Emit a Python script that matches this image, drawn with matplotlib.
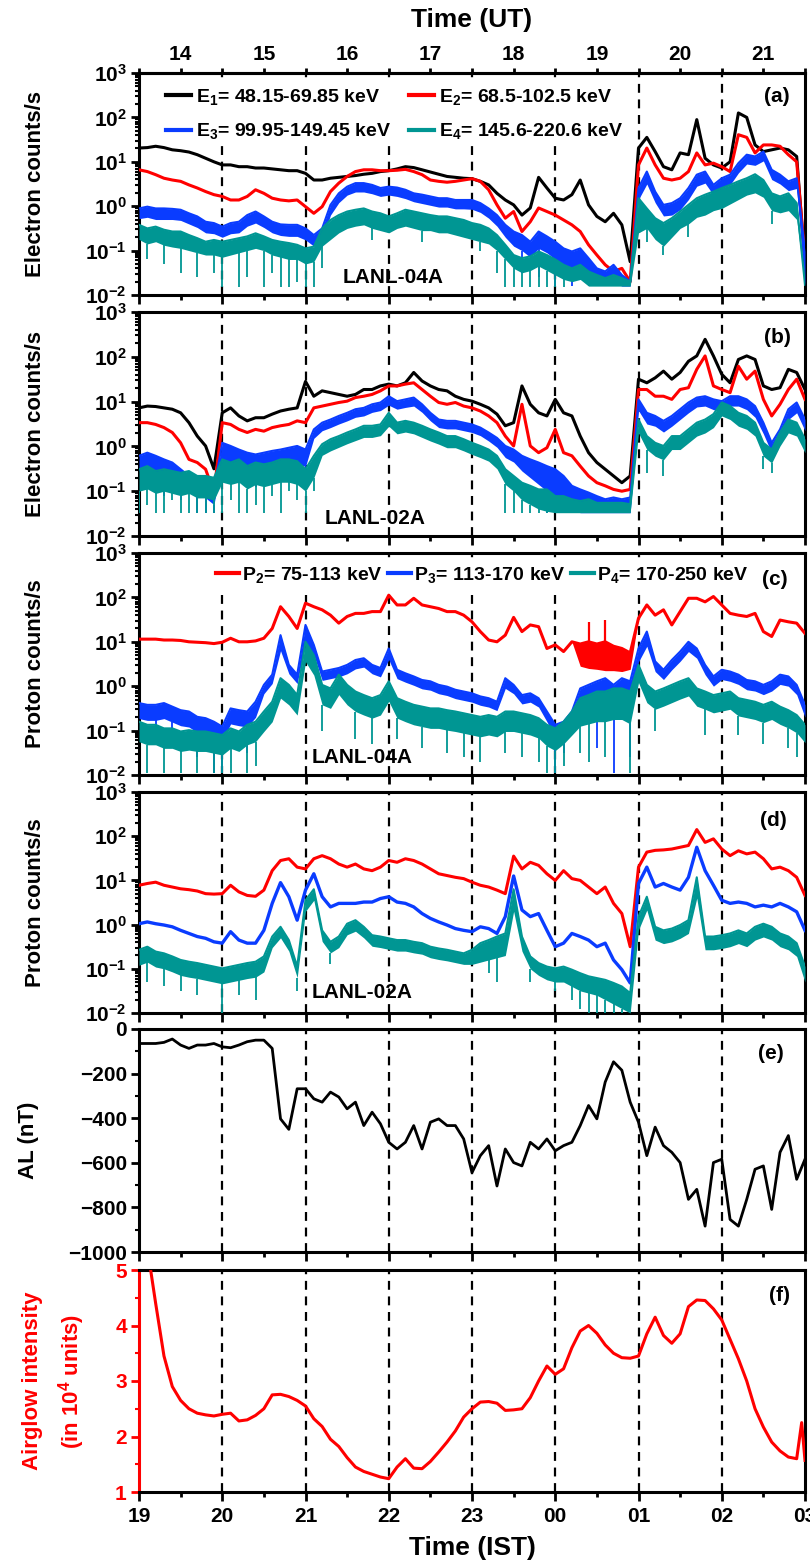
import numpy as np
import matplotlib
matplotlib.use("Agg")
import matplotlib.pyplot as plt
from matplotlib.ticker import FixedLocator, LogLocator, NullFormatter
from matplotlib.lines import Line2D

plt.rcParams['font.family'] = ['Liberation Sans', 'DejaVu Sans']
plt.rcParams['font.weight'] = 'bold'
plt.rcParams['axes.labelweight'] = 'bold'
plt.rcParams['mathtext.fontset'] = 'custom'
plt.rcParams['mathtext.rm'] = 'Liberation Sans:bold'
plt.rcParams['mathtext.it'] = 'Liberation Sans:bold'
plt.rcParams['mathtext.bf'] = 'Liberation Sans:bold'
plt.rcParams['axes.linewidth'] = 2.0

nan = np.nan

# ---------------- data ----------------
# sample times (UT hours), one reading every 0.1 h
ut = np.round(np.linspace(13.5, 21.5, 81), 2)

ut_hours = [14, 15, 16, 17, 18, 19, 20, 21]
ut_labels = ['14', '15', '16', '17', '18', '19', '20', '21']
ist_ticks_ut = [13.5, 14.5, 15.5, 16.5, 17.5, 18.5, 19.5, 20.5, 21.5]
ist_labels = ['19', '20', '21', '22', '23', '00', '01', '02', '03']
marker_lines_ut = [14.5, 15.5, 16.5, 17.5, 18.5, 19.5, 20.5]

log_ticks = [1e-2, 1e-1, 1e0, 1e1, 1e2, 1e3]
log_tick_labels = [r'$10^{-2}$', r'$10^{-1}$', r'$10^{0}$', r'$10^{1}$', r'$10^{2}$', r'$10^{3}$']

# ---- panel (a) LANL-04A electrons : log10(counts/s)
E1_a = [1.31,1.32,1.35,1.32,1.27,1.25,1.22,1.16,1.08,1.00,
        0.93,0.93,0.89,0.89,0.86,0.86,0.84,0.82,0.80,0.80,
        0.74,0.59,0.59,0.63,0.65,0.67,0.69,0.72,0.74,0.78,
        0.80,0.84,0.89,0.87,0.82,0.77,0.72,0.67,0.65,0.63,
        0.62,0.56,0.48,0.29,0.14,0.03,-0.20,-0.04,0.65,0.41,
        0.18,0.14,0.26,0.59,0.03,-0.23,-0.35,-0.16,-0.42,-1.25,
        1.31,1.55,1.23,0.89,0.82,1.20,1.16,1.95,1.08,0.93,
        0.86,1.00,2.10,2.00,1.38,1.23,1.27,1.31,1.27,1.12,
        -1.32]
E2_a = [0.82,0.78,0.71,0.63,0.59,0.56,0.48,0.41,0.33,0.26,
        0.22,0.14,0.14,0.22,0.37,0.29,0.18,0.14,0.12,0.14,
        -0.01,-0.16,-0.01,0.33,0.52,0.67,0.78,0.82,0.82,0.80,
        0.80,0.81,0.83,0.78,0.71,0.59,0.56,0.54,0.56,0.59,
        0.62,0.56,0.37,0.03,-0.27,-0.12,-0.57,-0.35,-0.04,-0.12,
        -0.20,-0.31,-0.42,-0.57,-0.87,-1.10,-1.32,-1.47,-1.40,-1.70,
        0.93,1.31,0.93,0.63,0.59,0.63,0.78,1.20,0.93,0.97,
        0.89,0.78,1.61,1.55,1.20,1.38,1.38,1.35,1.16,1.00,
        -1.17]
E3_a = [-0.05,-0.01,-0.05,-0.05,-0.06,-0.08,-0.16,-0.23,-0.35,-0.38,
        -0.46,-0.38,-0.35,-0.20,-0.12,-0.23,-0.35,-0.41,-0.42,-0.42,
        -0.50,-0.65,-0.50,0.03,0.29,0.44,0.52,0.52,0.48,0.41,
        0.44,0.42,0.37,0.29,0.26,0.22,0.18,0.18,0.14,0.14,
        0.14,0.07,-0.05,-0.20,-0.42,-0.57,-0.65,-0.80,-0.57,-0.68,
        -0.80,-0.95,-1.02,-0.95,-1.17,-1.40,-1.47,-1.32,-1.55,-1.70,
        0.41,0.78,0.33,0.03,0.07,0.18,0.41,0.71,0.78,0.48,
        0.63,0.71,0.97,1.16,1.12,1.23,0.82,0.71,0.56,0.63,
        -1.02]
E3_a_lo = [-0.28,-0.25,-0.30,-0.30,-0.30,-0.32,-0.40,-0.48,-0.60,-0.62,
           -0.70,-0.62,-0.60,-0.45,-0.38,-0.48,-0.60,-0.66,-0.68,-0.68,
           -0.76,-0.90,-0.76,-0.20,0.08,0.25,0.32,0.32,0.28,0.22,
           0.25,0.22,0.17,0.10,0.06,0.02,-0.02,-0.02,-0.06,-0.06,
           -0.07,-0.14,-0.27,-0.45,-0.70,-0.90,-1.00,-1.15,-0.95,-1.05,
           -1.20,-1.35,-1.45,-1.40,-1.55,-1.70,-1.75,-1.70,-1.80,-1.80,
           0.15,0.50,0.08,-0.22,-0.20,-0.08,0.15,0.45,0.52,0.25,
           0.40,0.48,0.75,0.95,0.92,1.02,0.60,0.50,0.35,0.40,
           -1.80]
E3_a_spk_idx = [46, 48, 50, 52, 54, 56, 58]
E3_a_spk_depth = [-1.5, -1.6, -1.8, -1.8, -1.8, -1.8, -1.8]
E4_a = [-0.42,-0.50,-0.46,-0.53,-0.57,-0.57,-0.65,-0.72,-0.80,-0.76,
        -0.80,-0.76,-0.72,-0.68,-0.61,-0.68,-0.76,-0.80,-0.83,-0.87,
        -0.95,-0.91,-0.50,-0.31,-0.20,-0.12,-0.08,-0.05,-0.12,-0.16,
        -0.23,-0.16,-0.08,-0.12,-0.16,-0.20,-0.23,-0.23,-0.27,-0.31,
        -0.38,-0.42,-0.50,-0.65,-0.87,-1.10,-1.17,-1.13,-1.02,-1.10,
        -1.20,-1.32,-1.40,-1.32,-1.47,-1.55,-1.62,-1.55,-1.62,-1.70,
        0.18,-0.05,-0.27,-0.38,-0.27,-0.12,0.03,0.18,0.26,0.33,
        0.41,0.48,0.56,0.63,0.72,0.59,0.29,0.22,0.29,0.07,
        -1.77]
E4_a_lo = [-0.75,-0.85,-0.80,-0.88,-0.92,-0.95,-1.00,-1.05,-1.10,-1.10,
           -1.15,-1.10,-1.05,-1.00,-0.95,-1.00,-1.10,-1.15,-1.20,-1.20,
           -1.30,-1.25,-0.90,-0.75,-0.60,-0.50,-0.45,-0.42,-0.50,-0.55,
           -0.60,-0.50,-0.45,-0.50,-0.55,-0.55,-0.60,-0.60,-0.65,-0.70,
           -0.75,-0.80,-0.85,-1.00,-1.20,-1.40,-1.50,-1.45,-1.35,-1.45,
           -1.55,-1.65,-1.70,-1.65,-1.80,-1.80,-1.80,-1.80,-1.80,-1.80,
           -0.60,-0.50,-0.75,-0.90,-0.70,-0.50,-0.40,-0.25,-0.20,-0.10,
           -0.05,0.05,0.15,0.25,0.30,0.20,-0.10,-0.15,-0.10,-0.30,
           -1.80]
E4_a_spk_idx = [1, 3, 5, 7, 9, 10, 12, 13, 15, 16, 17, 18, 19, 20, 21, 22,
                28, 34, 41, 43, 44, 45, 46, 47, 48, 49, 50, 51, 61, 63, 66, 76]
E4_a_spk_depth = [-1.2, -1.3, -1.5, -1.6, -1.5, -1.82, -1.82, -1.6, -1.82, -1.5, -1.82,
                  -1.82, -1.7, -1.82, -1.82, -1.4, -0.75, -0.8, -1.0, -1.5, -1.82, -1.82,
                  -1.82, -1.82, -1.82, -1.82, -1.82, -1.82, -0.8, -1.1, -0.7, -0.4]

# ---- panel (b) LANL-02A electrons : log10(counts/s)
E1_b = [0.86,0.90,0.89,0.86,0.83,0.75,0.53,0.23,0.01,-0.50,
        0.75,0.86,0.68,0.57,0.64,0.64,0.72,0.79,0.83,0.86,
        1.45,1.12,1.24,1.20,1.16,1.12,1.16,1.27,1.27,1.35,
        1.39,1.35,1.42,1.65,1.46,1.35,1.27,1.24,1.12,1.05,
        1.01,0.94,0.86,0.72,0.46,0.53,1.35,0.94,0.75,0.68,
        1.05,0.75,0.68,0.23,-0.14,-0.36,-0.51,-0.66,-0.81,-0.66,
        1.50,1.42,1.53,1.68,1.50,1.65,1.90,2.02,2.39,2.02,
        1.61,1.42,1.94,2.02,1.94,1.35,1.27,1.31,1.72,1.65,
        1.27]
E2_b = [0.53,0.53,0.49,0.42,0.31,0.08,-0.29,-0.36,-0.51,-1.03,
        0.53,0.49,0.38,0.31,0.38,0.34,0.42,0.46,0.49,0.57,
        0.53,0.86,0.90,0.94,0.98,1.01,1.09,1.12,1.16,1.24,
        1.35,1.35,1.39,1.42,1.27,1.12,0.98,0.94,0.98,0.90,
        0.86,0.79,0.68,0.53,0.23,0.01,0.94,0.01,-0.14,-0.03,
        0.38,-0.14,-0.21,-0.44,-0.66,-0.81,-0.88,-0.96,-1.00,-0.96,
        1.27,1.27,1.12,1.12,1.05,1.27,1.31,1.72,2.02,1.35,
        1.27,1.20,1.79,1.50,1.68,1.05,0.68,0.94,1.27,1.50,
        1.05]
E3_b = [-0.21,-0.14,-0.21,-0.29,-0.36,-0.51,-0.66,-0.70,-0.81,-0.96,
        0.08,0.01,-0.07,-0.14,-0.18,-0.14,-0.10,-0.07,-0.03,0.01,
        -0.07,0.38,0.53,0.60,0.68,0.75,0.83,0.86,0.94,0.98,
        1.12,1.01,1.05,1.09,0.94,0.75,0.60,0.57,0.57,0.53,
        0.49,0.42,0.31,0.19,0.01,-0.07,-0.21,-0.29,-0.36,-0.44,
        -0.51,-0.66,-0.88,-0.96,-1.03,-1.11,-1.18,-1.14,-1.18,-1.14,
        1.05,0.75,0.68,0.57,0.68,0.83,0.98,1.09,1.12,1.05,
        1.01,1.12,1.12,1.05,0.90,0.53,0.08,0.38,0.83,0.98,
        0.60]
E3_b_lo = [-0.55,-0.45,-0.60,-0.60,-0.75,-0.85,-1.00,-1.00,-1.15,-1.30,
           -0.30,-0.40,-0.45,-0.55,-0.50,-0.50,-0.45,-0.45,-0.40,-0.38,
           -0.45,0.18,0.35,0.42,0.50,0.57,0.65,0.68,0.76,0.80,
           0.92,0.83,0.87,0.90,0.76,0.57,0.42,0.39,0.39,0.35,
           0.31,0.24,0.12,-0.02,-0.25,-0.35,-0.55,-0.70,-0.85,-1.00,
           -1.10,-1.25,-1.40,-1.48,-1.48,-1.48,-1.48,-1.48,-1.48,-1.48,
           0.80,0.50,0.45,0.32,0.45,0.60,0.75,0.88,0.90,0.82,
           0.78,0.90,0.90,0.82,0.65,0.28,-0.15,0.12,0.60,0.75,
           0.35]
E3_b_spk_idx = [1, 3, 5, 7, 8, 9, 12, 14, 16, 18, 20, 49, 50, 51]
E3_b_spk_depth = [-0.9, -1.1, -1.2, -1.48, -1.48, -1.48, -0.8, -0.9, -0.8, -0.75, -0.9,
                  -1.48, -1.48, -1.48]
E4_b = [-0.51,-0.44,-0.55,-0.51,-0.55,-0.59,-0.55,-0.66,-0.66,-0.70,
        -0.29,-0.36,-0.29,-0.44,-0.36,-0.40,-0.36,-0.29,-0.29,-0.33,
        -0.51,-0.21,0.05,0.16,0.23,0.31,0.38,0.46,0.46,0.49,
        0.75,0.53,0.57,0.53,0.46,0.38,0.31,0.23,0.23,0.16,
        0.08,0.01,-0.07,-0.21,-0.51,-0.66,-0.81,-0.88,-0.96,-0.96,
        -1.11,-1.11,-1.18,-1.22,-1.18,-1.26,-1.26,-1.26,-1.26,-1.29,
        0.60,0.23,0.08,0.01,0.23,0.23,0.38,0.53,0.60,0.72,
        0.98,0.90,0.75,0.68,0.53,0.08,-0.07,0.31,0.60,0.53,
        0.16]
E4_b_lo = [-1.00,-0.95,-1.05,-1.00,-1.05,-1.10,-1.05,-1.15,-1.15,-1.20,
           -0.80,-0.85,-0.80,-0.95,-0.85,-0.90,-0.85,-0.80,-0.80,-0.85,
           -1.00,-0.70,-0.20,-0.10,-0.02,0.06,0.13,0.20,0.20,0.24,
           0.45,0.28,0.32,0.28,0.20,0.12,0.05,-0.03,-0.03,-0.10,
           -0.18,-0.25,-0.33,-0.50,-0.85,-1.00,-1.20,-1.30,-1.40,-1.45,
           -1.48,-1.48,-1.48,-1.48,-1.48,-1.48,-1.48,-1.48,-1.48,-1.48,
           0.30,-0.07,-0.22,-0.30,-0.07,-0.07,0.08,0.23,0.30,0.42,
           0.68,0.60,0.45,0.38,0.23,-0.22,-0.37,0.01,0.30,0.23,
           -0.14]
E4_b_spk_idx = [0, 1, 2, 3, 4, 5, 6, 7, 8, 9, 10, 11, 12, 13, 14, 15, 16, 17, 18, 19,
                20, 21, 44, 45, 46, 47, 48, 49, 61, 63, 75, 76]
E4_b_spk_depth = [-1.48, -1.3, -1.48, -1.48, -1.2, -1.48, -1.48, -1.48, -1.48, -1.48,
                  -1.48, -1.2, -1.48, -1.48, -1.3, -1.48, -1.1, -1.48, -1.0, -1.2,
                  -1.48, -1.0, -1.48, -1.48, -1.48, -1.48, -1.48, -1.48, -0.6, -0.65,
                  -0.5, -0.6]

# ---- panel (c) LANL-04A protons : log10(counts/s)
P2_c = [1.06,1.06,1.06,1.04,1.04,1.03,1.00,0.99,0.98,0.96,
        0.99,1.08,1.00,1.00,1.02,1.08,1.30,1.79,1.57,1.30,
        1.87,1.79,1.72,1.60,1.42,1.57,1.64,1.64,1.68,1.68,
        2.05,1.83,1.83,1.98,1.83,1.79,1.75,1.68,1.68,1.60,
        1.45,1.23,1.04,1.00,1.15,1.55,1.23,1.38,1.34,0.85,
        0.93,0.78,1.00,0.95,1.00,0.95,1.00,0.90,0.85,0.75,
        1.53,1.83,1.60,1.72,1.38,1.68,1.98,1.98,1.90,2.02,
        1.83,1.64,1.60,1.57,1.64,1.23,1.12,1.49,1.45,1.42,
        1.19]
P2_c_lo = [nan]*53 + [0.45,0.40,0.38,0.35,0.35,0.33,0.38] + [nan]*21
P2_c_up_idx = [54, 56]
P2_c_up_top = [1.45, 1.50]
P3_c = [-0.38,-0.42,-0.42,-0.38,-0.46,-0.54,-0.57,-0.69,-0.72,-0.80,
        -0.91,-0.50,-0.54,-0.57,-0.35,0.03,0.26,1.15,0.48,0.26,
        1.38,0.93,0.33,0.37,0.41,0.48,0.59,0.63,0.48,0.41,
        0.85,0.37,0.29,0.22,0.14,0.11,0.03,-0.01,-0.08,-0.12,
        -0.16,-0.23,-0.27,-0.35,0.18,0.03,-0.20,-0.16,-0.27,-0.57,
        -0.87,-0.80,-0.57,-0.05,0.03,0.11,0.18,0.03,0.18,0.11,
        0.85,1.23,0.56,0.37,0.59,0.78,1.00,0.85,0.48,0.22,
        0.37,0.33,0.26,0.14,0.11,0.03,0.11,0.26,0.22,0.03,
        -0.42]
P3_c_lo = [-0.73,-0.77,-0.77,-0.73,-0.81,-0.89,-0.92,-1.04,-1.07,-1.15,
           -1.26,-0.85,-0.89,-0.92,-0.70,-0.17,0.06,0.80,0.28,0.06,
           1.00,0.70,0.13,0.17,0.21,0.28,0.39,0.43,0.28,0.21,
           0.60,0.17,0.09,0.02,-0.06,-0.09,-0.17,-0.21,-0.28,-0.32,
           -0.36,-0.43,-0.47,-0.55,-0.05,-0.17,-0.40,-0.36,-0.47,-0.80,
           -1.15,-1.10,-0.90,-0.70,-0.65,-0.60,-0.55,-0.65,-0.60,-0.70,
           0.55,0.90,0.33,0.15,0.37,0.56,0.78,0.63,0.26,0.00,
           0.15,0.11,0.04,-0.08,-0.11,-0.19,-0.11,0.04,0.00,-0.19,
           -0.70]
P3_c_spk_idx = [2, 4, 7, 9, 10, 13, 50, 51, 55, 57, 59]
P3_c_spk_depth = [-1.3, -1.4, -1.6, -1.96, -1.96, -1.5, -1.96, -1.5, -1.4, -1.96, -1.6]
P4_c = [-0.80,-0.87,-0.87,-0.95,-0.95,-1.02,-0.99,-1.02,-1.02,-1.06,
        -1.10,-0.95,-1.02,-0.87,-0.80,-0.57,-0.35,0.18,0.03,-0.20,
        1.00,0.70,0.03,-0.05,0.26,0.03,-0.12,-0.20,-0.27,-0.20,
        0.11,-0.27,-0.35,-0.42,-0.46,-0.50,-0.50,-0.54,-0.57,-0.61,
        -0.65,-0.69,-0.65,-0.69,-0.57,-0.57,-0.61,-0.65,-0.72,-0.87,
        -0.95,-0.80,-0.57,-0.27,-0.20,-0.12,-0.12,-0.05,-0.05,-0.12,
        0.48,0.03,-0.12,-0.05,0.03,0.11,0.18,-0.05,-0.12,-0.20,
        -0.16,-0.12,-0.27,-0.31,-0.35,-0.42,-0.35,-0.46,-0.54,-0.65,
        -0.87]
P4_c_lo = [-1.25,-1.32,-1.32,-1.40,-1.40,-1.47,-1.44,-1.47,-1.47,-1.51,
           -1.55,-1.40,-1.47,-1.32,-1.25,-1.02,-0.80,-0.27,-0.42,-0.65,
           0.55,0.25,-0.42,-0.50,-0.19,-0.42,-0.57,-0.65,-0.72,-0.65,
           -0.34,-0.72,-0.80,-0.87,-0.91,-0.95,-0.95,-0.99,-1.02,-1.06,
           -1.10,-1.14,-1.10,-1.14,-1.02,-1.02,-1.06,-1.10,-1.17,-1.35,
           -1.45,-1.30,-1.10,-0.90,-0.85,-0.80,-0.80,-0.75,-0.75,-0.85,
           0.08,-0.37,-0.52,-0.45,-0.37,-0.29,-0.22,-0.45,-0.52,-0.60,
           -0.56,-0.52,-0.67,-0.71,-0.75,-0.82,-0.75,-0.86,-0.94,-1.05,
           -1.27]
P4_c_spk_idx = [1, 3, 5, 7, 9, 10, 11, 13, 14, 22, 26, 28, 31, 34, 37, 39, 41, 44, 46,
                48, 49, 50, 51, 53, 54, 56, 59, 62, 68, 72, 75, 78, 79]
P4_c_spk_depth = [-1.96, -1.96, -1.96, -1.96, -1.96, -1.96, -1.96, -1.96, -1.8, -1.0,
                  -1.2, -1.3, -1.2, -1.4, -1.5, -1.6, -1.7, -1.5, -1.6, -1.7, -1.96,
                  -1.96, -1.8, -1.5, -1.7, -1.6, -1.96, -1.0, -1.1, -1.1, -1.3, -1.4,
                  -1.6]

# ---- panel (d) LANL-02A protons : log10(counts/s)
P2_d = [0.89,0.93,0.96,0.89,0.85,0.81,0.79,0.76,0.70,0.69,
        0.70,0.89,0.74,0.66,0.64,0.78,1.22,1.45,1.49,1.30,
        1.26,1.49,1.56,1.49,1.37,1.30,1.37,1.26,1.22,1.30,
        1.45,1.41,1.49,1.45,1.37,1.26,1.15,1.11,1.07,1.04,
        0.96,0.89,0.85,0.78,0.70,1.55,1.26,1.41,1.34,1.15,
        1.00,1.22,1.04,1.00,0.85,0.70,0.85,0.48,0.25,-0.50,
        1.30,1.64,1.68,1.69,1.71,1.75,1.79,2.15,1.86,1.94,
        1.71,1.56,1.67,1.60,1.64,1.49,1.26,1.30,1.22,1.07,
        0.66]
P3_d = [0.02,0.06,0.02,-0.01,-0.05,-0.13,-0.20,-0.27,-0.31,-0.39,
        -0.42,-0.16,-0.35,-0.42,-0.42,-0.13,0.48,0.95,0.63,0.10,
        0.78,1.15,0.63,0.40,0.48,0.48,0.48,0.51,0.51,0.59,
        0.63,0.51,0.48,0.40,0.25,0.14,0.06,-0.01,-0.09,-0.13,
        -0.16,-0.05,-0.09,-0.20,0.18,1.10,0.33,0.18,0.25,-0.13,
        -0.50,-0.42,-0.20,-0.27,-0.35,-0.50,-0.42,-0.80,-1.02,-1.32,
        0.93,1.30,0.85,0.93,0.85,0.78,1.07,1.75,1.22,0.89,
        0.55,0.48,0.51,0.48,0.40,0.44,0.40,0.48,0.40,0.29,
        -0.13]
P4_d = [-0.57,-0.50,-0.61,-0.65,-0.72,-0.80,-0.84,-0.87,-0.91,-0.95,
        -0.99,-0.95,-0.91,-0.87,-0.84,-0.72,-0.27,-0.05,-0.35,-0.95,
        0.55,0.80,-0.13,-0.39,-0.27,0.02,0.10,-0.05,-0.24,-0.27,
        -0.31,-0.35,-0.35,-0.39,-0.42,-0.50,-0.54,-0.57,-0.61,-0.65,
        -0.57,-0.42,-0.35,-0.27,-0.20,0.80,-0.27,-0.72,-0.87,-0.95,
        -0.99,-0.95,-1.02,-1.10,-1.17,-1.21,-1.25,-1.32,-1.40,-1.55,
        0.18,0.63,-0.05,-0.13,-0.09,-0.01,0.10,1.07,-0.27,-0.27,
        -0.24,-0.20,-0.13,-0.20,-0.05,0.02,-0.05,-0.20,-0.27,-0.42,
        -0.95]
P4_d_lo = [-0.92,-0.85,-0.96,-1.00,-1.07,-1.15,-1.19,-1.22,-1.26,-1.30,
           -1.34,-1.30,-1.26,-1.22,-1.19,-1.07,-0.52,-0.30,-0.60,-1.20,
           0.30,0.55,-0.38,-0.64,-0.52,-0.23,-0.15,-0.30,-0.49,-0.52,
           -0.56,-0.60,-0.60,-0.64,-0.67,-0.75,-0.79,-0.82,-0.86,-0.90,
           -0.90,-0.85,-0.80,-0.75,-0.70,0.30,-0.60,-1.00,-1.15,-1.25,
           -1.30,-1.30,-1.40,-1.50,-1.55,-1.60,-1.70,-1.80,-1.90,-2.00,
           -0.12,0.33,-0.35,-0.43,-0.39,-0.31,-0.20,0.60,-0.57,-0.57,
           -0.54,-0.50,-0.43,-0.50,-0.35,-0.28,-0.35,-0.50,-0.57,-0.72,
           -1.30]
P4_d_spk_idx = [1, 3, 5, 7, 10, 12, 14, 19, 23, 42, 43, 47, 50, 52, 53, 54, 55, 56, 57, 58]
P4_d_spk_depth = [-1.3, -1.4, -1.5, -1.6, -2.0, -1.6, -1.7, -1.5, -0.9, -1.1, -1.3, -1.3,
                  -1.5, -1.7, -1.9, -2.0, -2.0, -2.0, -2.0, -2.0]

# ---- panel (e) AL index (nT)
AL = [-65,-65,-65,-60,-45,-72,-87,-72,-72,-65,
      -80,-84,-72,-57,-50,-50,-87,-403,-450,-268,
      -268,-313,-328,-283,-305,-358,-328,-433,-373,-425,
      -508,-538,-508,-433,-538,-418,-403,-433,-433,-493,
      -644,-568,-523,-704,-538,-599,-614,-508,-538,-493,
      -546,-523,-508,-433,-343,-403,-238,-147,-185,-328,
      -418,-568,-440,-523,-553,-599,-764,-719,-884,-599,
      -584,-854,-884,-764,-629,-614,-809,-553,-478,-674,
      -584]

# ---- panel (f) airglow intensity (10^4 units)
ut_glow = np.concatenate([ut[:80], [21.46, 21.5]])
airglow = [6.5,5.4,4.4,3.45,2.9,2.65,2.5,2.42,2.39,2.37,
           2.4,2.42,2.28,2.3,2.38,2.5,2.75,2.76,2.72,2.65,
           2.55,2.32,2.18,1.95,1.82,1.62,1.45,1.37,1.32,1.27,
           1.24,1.45,1.6,1.43,1.42,1.55,1.72,1.9,2.1,2.35,
           2.5,2.62,2.63,2.6,2.47,2.48,2.5,2.7,3.0,3.27,
           3.12,3.22,3.6,3.9,4.0,3.86,3.65,3.5,3.42,3.41,
           3.45,3.85,4.15,3.82,3.68,3.85,4.34,4.46,4.45,4.3,
           4.1,3.75,3.4,3.0,2.5,2.17,1.9,1.74,1.63,1.6,
           2.25,1.57]

# ---------------- figure ----------------
BLACK, RED, BLUE, TEAL = '#000000', '#ff0000', '#0a3cff', '#009693'
W, H = 810, 1564
fig = plt.figure(figsize=(W / 100, H / 100), dpi=100)

X0, X1 = 139, 805


def rect(top, bot):
    return [X0 / W, 1 - bot / H, (X1 - X0) / W, (bot - top) / H]


def base_style(ax, bottom_labels=False):
    ax.set_xlim(13.5, 21.5)
    ax.xaxis.set_major_locator(FixedLocator(ist_ticks_ut))
    ax.xaxis.set_minor_locator(FixedLocator(ut_hours))
    ax.tick_params(axis='x', which='major', direction='out', length=6.5, width=2,
                   top=False, bottom=True, labelbottom=bottom_labels, labelsize=15, pad=4)
    ax.tick_params(axis='x', which='minor', direction='out', length=3.6, width=2, top=False)
    ax.tick_params(axis='y', which='major', direction='out', length=5.8, width=2,
                   right=False, labelsize=15, pad=3)
    ax.tick_params(axis='y', which='minor', direction='out', length=3, width=1.5, right=False)
    for s in ax.spines.values():
        s.set_linewidth(2.2)
    for x in marker_lines_ut:
        ax.axvline(x, color='k', lw=1.6, ls=(0, (4, 3)), zorder=1.5)


def log_style(ax):
    ax.set_yscale('log')
    ax.set_ylim(1e-2, 1e3)
    ax.set_yticks(log_ticks, labels=log_tick_labels)
    ax.yaxis.set_minor_locator(LogLocator(base=10, subs=np.arange(2, 10)))
    ax.yaxis.set_minor_formatter(NullFormatter())


def draw(ax, vals, color, lo=None, spk_idx=None, spk_depth=None, z=3, lw=1.5):
    v = np.asarray(vals, float)
    if lo is not None:
        l = np.asarray(lo, float)
        l = np.where(np.isfinite(l), l, v)
        ax.fill_between(ut, 10.0 ** l, 10.0 ** v, color=color, lw=0, zorder=z)
        if spk_idx is not None:
            idx = np.asarray(spk_idx)
            ax.vlines(ut[idx], 10.0 ** np.asarray(spk_depth, float), 10.0 ** l[idx],
                      color=color, lw=1.3, zorder=z)
    ax.plot(ut, 10.0 ** v, color=color, lw=lw, zorder=z)


def panel_text(ax, label, x, y, sat, sx, sy):
    ax.text(x, y, label, transform=ax.transAxes, ha='center', va='center',
            fontsize=15, zorder=10)
    if sat:
        ax.text(sx, sy, sat, transform=ax.transAxes, ha='center', va='center',
                fontsize=15, zorder=10)


YLAB_X = -0.14

# (a)
ax_a = fig.add_axes(rect(73, 295))
base_style(ax_a)
log_style(ax_a)
draw(ax_a, E1_a, BLACK, z=3, lw=2.2)
draw(ax_a, E2_a, RED, z=4, lw=2.2)
draw(ax_a, E3_a, BLUE, E3_a_lo, E3_a_spk_idx, E3_a_spk_depth, z=5)
draw(ax_a, E4_a, TEAL, E4_a_lo, E4_a_spk_idx, E4_a_spk_depth, z=6)
ax_a.set_ylabel('Electron counts/s', fontsize=16)
ax_a.yaxis.set_label_coords(YLAB_X, 0.5)
panel_text(ax_a, '(a)', 0.958, 0.892, 'LANL-04A', 0.381, 0.077)
hd = [Line2D([], [], color=c, lw=3) for c in (BLACK, BLUE, RED, TEAL)]
lb = [r'E$_{1}$= 48.15-69.85 keV', r'E$_{3}$= 99.95-149.45 keV',
      r'E$_{2}$= 68.5-102.5 keV', r'E$_{4}$= 145.6-220.6 keV']
leg = ax_a.legend(hd, lb, ncol=2, loc='upper left', bbox_to_anchor=(0.035, 0.955),
                  fontsize=14, frameon=True, facecolor='white', edgecolor='none',
                  framealpha=1, handlelength=1.3, handletextpad=0.25,
                  columnspacing=0.9, labelspacing=0.75, borderpad=0.2, borderaxespad=0)
leg.set_zorder(9)
sec = ax_a.secondary_xaxis('top')
sec.set_xticks(ut_hours, labels=ut_labels)
sec.xaxis.set_minor_locator(FixedLocator(ist_ticks_ut))
sec.tick_params(which='major', direction='out', length=3.6, width=2, labelsize=15, pad=3)
sec.tick_params(which='minor', direction='out', length=3.6, width=2)
sec.spines['top'].set_linewidth(2.2)

# (b)
ax_b = fig.add_axes(rect(312, 536))
base_style(ax_b)
log_style(ax_b)
draw(ax_b, E1_b, BLACK, z=3, lw=2.2)
draw(ax_b, E2_b, RED, z=4, lw=2.2)
draw(ax_b, E3_b, BLUE, E3_b_lo, E3_b_spk_idx, E3_b_spk_depth, z=5)
draw(ax_b, E4_b, TEAL, E4_b_lo, E4_b_spk_idx, E4_b_spk_depth, z=6)
ax_b.set_ylabel('Electron counts/s', fontsize=16)
ax_b.yaxis.set_label_coords(YLAB_X, 0.5)
panel_text(ax_b, '(b)', 0.958, 0.888, 'LANL-02A', 0.354, 0.08)

# (c)
ax_c = fig.add_axes(rect(553, 775))
base_style(ax_c)
log_style(ax_c)
draw(ax_c, P2_c, RED, P2_c_lo, z=3, lw=2.2)
ax_c.vlines(ut[np.asarray(P2_c_up_idx)], 10.0 ** np.asarray(P2_c)[np.asarray(P2_c_up_idx)],
            10.0 ** np.asarray(P2_c_up_top), color=RED, lw=1.6, zorder=3)
draw(ax_c, P3_c, BLUE, P3_c_lo, P3_c_spk_idx, P3_c_spk_depth, z=4)
draw(ax_c, P4_c, TEAL, P4_c_lo, P4_c_spk_idx, P4_c_spk_depth, z=5)
ax_c.set_ylabel('Proton counts/s', fontsize=16)
ax_c.yaxis.set_label_coords(YLAB_X, 0.5)
panel_text(ax_c, '(c)', 0.955, 0.88, 'LANL-04A', 0.335, 0.077)
hd = [Line2D([], [], color=c, lw=3) for c in (RED, BLUE, TEAL)]
lb = [r'P$_{2}$= 75-113 keV', r'P$_{3}$= 113-170 keV', r'P$_{4}$= 170-250 keV']
leg = ax_c.legend(hd, lb, ncol=3, loc='upper left', bbox_to_anchor=(0.11, 0.965),
                  fontsize=14, frameon=True, facecolor='white', edgecolor='none',
                  framealpha=1, handlelength=1.2, handletextpad=0.15,
                  columnspacing=0.25, borderpad=0.2, borderaxespad=0)
leg.set_zorder(9)

# (d)
ax_d = fig.add_axes(rect(792, 1013))
base_style(ax_d)
log_style(ax_d)
draw(ax_d, P2_d, RED, z=3, lw=2.2)
draw(ax_d, P3_d, BLUE, z=4, lw=2.4)
draw(ax_d, P4_d, TEAL, P4_d_lo, P4_d_spk_idx, P4_d_spk_depth, z=5)
ax_d.set_ylabel('Proton counts/s', fontsize=16)
ax_d.yaxis.set_label_coords(YLAB_X, 0.5)
panel_text(ax_d, '(d)', 0.952, 0.873, 'LANL-02A', 0.335, 0.095)

# (e)
ax_e = fig.add_axes(rect(1029, 1252))
base_style(ax_e)
ax_e.plot(ut, AL, color=BLACK, lw=2.0, zorder=3)
ax_e.set_ylim(-1000, 0)
ax_e.set_yticks([0, -200, -400, -600, -800, -1000])
ax_e.yaxis.set_minor_locator(FixedLocator([-100, -300, -500, -700, -900]))
ax_e.set_ylabel('AL (nT)', fontsize=16)
ax_e.yaxis.set_label_coords(-0.15, 0.5)
panel_text(ax_e, '(e)', 0.949, 0.892, None, 0, 0)

# (f)
ax_f = fig.add_axes(rect(1270, 1492))
base_style(ax_f, bottom_labels=True)
ax_f.set_xticks(ist_ticks_ut, labels=ist_labels)
ax_f.plot(ut_glow, airglow, color=RED, lw=2.2, zorder=3)
ax_f.set_ylim(1, 5)
ax_f.set_yticks([1, 2, 3, 4, 5])
ax_f.yaxis.set_minor_locator(FixedLocator([1.5, 2.5, 3.5, 4.5]))
ax_f.tick_params(axis='y', which='both', colors=RED)
ax_f.spines['left'].set_color(RED)
ax_f.set_ylabel('Airglow intensity\n(in 10$^{4}$ units)', fontsize=16, color=RED,
                linespacing=1.6)
ax_f.yaxis.set_label_coords(-0.078, 0.5)
panel_text(ax_f, '(f)', 0.962, 0.887, None, 0, 0)

fig.text((X0 + X1) / 2 / W, 1 - 20 / H, 'Time (UT)', ha='center', va='center', fontsize=19)
fig.text((X0 + X1) / 2 / W, 1 - 1548 / H, 'Time (IST)', ha='center', va='center', fontsize=19)

fig.savefig('out.png', dpi=100)
